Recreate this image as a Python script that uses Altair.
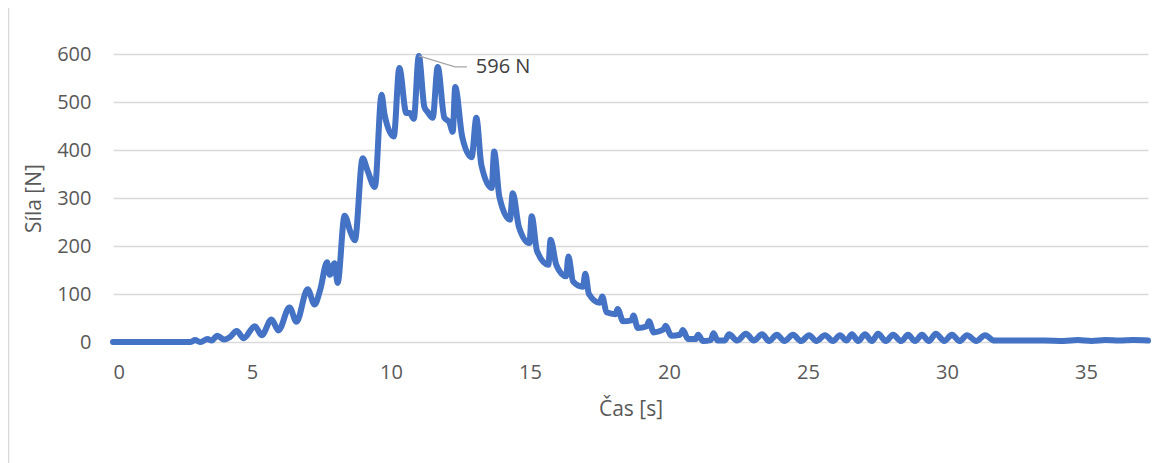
import altair as alt
import pandas as pd

# Time [s] and force [N]
time_s = [
    0.0, 2.8, 2.95, 3.15, 3.4, 3.55, 3.75, 4.0, 4.2, 4.45, 4.7, 5.1, 5.35, 5.7, 5.95,
    6.35, 6.6, 7.0, 7.25, 7.45, 7.7, 7.8, 7.97, 8.08, 8.33, 8.55, 8.7, 8.98, 9.15,
    9.42, 9.66, 9.77, 10.1, 10.3, 10.55, 10.68, 10.82, 11.0, 11.2, 11.32, 11.5,
    11.68, 11.92, 12.1, 12.22, 12.31, 12.56, 12.9, 13.07, 13.25, 13.62, 13.71,
    13.9, 14.28, 14.38, 14.6, 14.98, 15.06, 15.25, 15.66, 15.74, 15.95, 16.3,
    16.38, 16.55, 16.9, 16.99, 17.12, 17.5, 17.6, 17.75, 18.08, 18.15, 18.35,
    18.65, 18.72, 18.88, 19.2, 19.28, 19.45, 19.8, 19.88, 20.08, 20.4, 20.5,
    20.68, 20.95, 21.05, 21.22, 21.5, 21.6, 21.75,
    22.0, 22.16, 22.45, 22.77, 23.05, 23.35, 23.6, 23.88, 24.15, 24.46, 24.75,
    25.04, 25.3, 25.61, 25.9, 26.15, 26.38, 26.58, 26.8, 27.05, 27.3, 27.52,
    27.8, 28.06, 28.35, 28.6, 28.85, 29.1, 29.35, 29.6, 29.9, 30.18, 30.45,
    30.72, 31.05, 31.37, 31.7, 32.5, 33.5, 34.2, 34.7, 35.2, 35.7, 36.2, 36.7,
    37.23,
]
force_n = [
    0, 0, 4, 0, 6, 3, 13, 5, 10, 23, 8, 33, 14, 47, 24,
    72, 42, 110, 78, 108, 166, 140, 164, 123, 263, 228, 212, 383, 358,
    323, 515, 473, 428, 571, 477, 477, 465, 596, 490, 479, 467,
    573, 467, 458, 438, 531, 428, 385, 467, 369, 321, 397,
    302, 255, 310, 240, 206, 262, 190, 161, 213, 160, 137,
    178, 126, 115, 142, 100, 82, 95, 62, 58, 69, 43,
    45, 55, 29, 33, 43, 20, 26, 34, 13, 15, 25,
    6, 6, 15, 2, 4, 18, 3,
    3, 16, 3, 17, 3, 16, 2, 15, 2, 15, 2,
    14, 2, 14, 2, 14, 3, 16, 2, 16, 2, 17,
    2, 15, 2, 15, 2, 15, 2, 17, 2, 15, 2,
    14, 2, 14, 3, 3, 3, 2, 4, 2, 4, 3, 4,
    3,
]

peak_t = [11.0, 12.3, 12.73]
peak_f = [596, 573, 573]
label_text = ["596 N"]
label_t = [13.05]
label_f = [573]

x_ticks = [0, 5, 10, 15, 20, 25, 30, 35]
y_ticks = [0, 100, 200, 300, 400, 500, 600]

df = pd.DataFrame({"t": time_s, "F": force_n})
leader = pd.DataFrame({"t": peak_t, "F": peak_f})
lab = pd.DataFrame({"t": label_t, "F": label_f, "txt": label_text})

FONT = "Open Sans"
GRAY = "#595959"

xs = alt.Scale(domain=[0, 37.23], nice=False, zero=False)
ys = alt.Scale(domain=[0, 600], nice=False)

line = alt.Chart(df).mark_line(
    color="#4472C4", strokeWidth=6, strokeJoin="round", strokeCap="round",
    interpolate="monotone",
).encode(
    x=alt.X("t:Q", scale=xs, axis=alt.Axis(
        values=x_ticks, title="Čas [s]", grid=False, domain=False, ticks=False,
        labelFont=FONT, labelFontSize=20, labelColor=GRAY, labelPadding=20,
        titleFont=FONT, titleFontSize=21, titleColor=GRAY, titleFontWeight="normal",
        titlePadding=16,
    )),
    y=alt.Y("F:Q", scale=ys, axis=alt.Axis(
        values=y_ticks, title="Síla [N]", grid=True, gridColor="#D9D9D9",
        gridWidth=1.3, domain=False, ticks=False,
        labelFont=FONT, labelFontSize=20, labelColor=GRAY, labelPadding=22,
        titleFont=FONT, titleFontSize=21, titleColor=GRAY, titleFontWeight="normal",
        titlePadding=12,
    )),
)

lead = alt.Chart(leader).mark_line(color="#A6A6A6", strokeWidth=1.3).encode(
    x=alt.X("t:Q", scale=xs), y=alt.Y("F:Q", scale=ys)
)

text = alt.Chart(lab).mark_text(
    align="left", baseline="middle", font=FONT, fontSize=20, color="#404040"
).encode(x=alt.X("t:Q", scale=xs), y=alt.Y("F:Q", scale=ys), text="txt:N")

border = alt.Chart(lab).mark_rule(color="#D9D9D9", strokeWidth=1.5).encode(
    x=alt.value(-104.5), y=alt.value(-46), y2=alt.value(409)
)

chart = alt.layer(line, lead, text, border).properties(
    width=1035, height=288,
    autosize=alt.AutoSizeParams(type="none"),
    padding={"left": 105, "top": 46, "right": 6, "bottom": 121},
).configure_view(stroke=None)

chart.save("out.html", embed_options={"renderer": "svg", "actions": False})
